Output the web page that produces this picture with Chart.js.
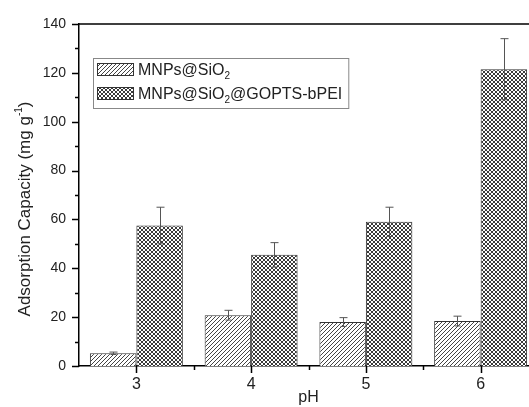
<!DOCTYPE html>
<html>
<head>
<meta charset="utf-8">
<script src="https://cdn.jsdelivr.net/npm/chart.js@4/dist/chart.umd.min.js"></script>
<style>
  html, body { margin: 0; padding: 0; background: #fff; overflow: hidden; }
  #wrap { width: 529px; height: 407px; overflow: hidden; }
</style>
</head>
<body>
<div id="wrap"><canvas id="chart" width="540" height="407"></canvas></div>
<script>
// data
const phLabels = ["3", "4", "5", "6"];
const silicaVals = [5.2, 20.8, 18.0, 18.4];
const silicaErr = [0.5, 2.0, 1.8, 2.0];
const peiVals = [57.5, 45.5, 59.0, 121.5];
const peiErr = [7.5, 5.0, 6.0, 12.5];
const yTicks = [0, 20, 40, 60, 80, 100, 120, 140];

const FONT = "'Liberation Sans', Arial, sans-serif";
const TEXT = "#222";

// fill patterns
function hatchPattern() {
  const c = document.createElement("canvas");
  c.width = 4; c.height = 4;
  const g = c.getContext("2d");
  g.fillStyle = "#fff";
  g.fillRect(0, 0, 4, 4);
  g.strokeStyle = "#444";
  g.lineWidth = 1;
  g.beginPath();
  g.moveTo(-1, 5); g.lineTo(5, -1);
  g.moveTo(-1, 1); g.lineTo(1, -1);
  g.moveTo(3, 5); g.lineTo(5, 3);
  g.stroke();
  return g.createPattern(c, "repeat");
}
function crossPattern() {
  const c = document.createElement("canvas");
  c.width = 4; c.height = 4;
  const g = c.getContext("2d");
  g.fillStyle = "#fff";
  g.fillRect(0, 0, 4, 4);
  g.fillStyle = "#3a3a3a";
  [[0,0],[1,1],[2,2],[3,3],[3,0],[2,1],[1,2],[0,3]].forEach(p => g.fillRect(p[0], p[1], 1, 1));
  return g.createPattern(c, "repeat");
}
const hatch = hatchPattern();
const cross = crossPattern();

// error bars, axis frame and ticks
const extras = {
  id: "extras",
  afterDatasetsDraw(chart) {
    const ctx = chart.ctx;
    const y = chart.scales.y;
    const errs = [silicaErr, peiErr];
    ctx.save();
    ctx.strokeStyle = "#555";
    ctx.lineWidth = 1;
    chart.data.datasets.forEach((ds, i) => {
      chart.getDatasetMeta(i).data.forEach((bar, j) => {
        const v = ds.data[j], e = errs[i][j];
        const x = Math.round(bar.x) + 0.5;
        const top = y.getPixelForValue(v + e);
        const bot = y.getPixelForValue(v - e);
        ctx.beginPath();
        ctx.moveTo(x, bot); ctx.lineTo(x, top);
        ctx.moveTo(x - 4, top); ctx.lineTo(x + 4, top);
        ctx.moveTo(x - 3, bot); ctx.lineTo(x + 3, bot);
        ctx.stroke();
      });
    });
    ctx.restore();
  },
  afterDraw(chart) {
    const ctx = chart.ctx;
    const a = chart.chartArea;
    const x = chart.scales.x, y = chart.scales.y;
    ctx.save();
    ctx.strokeStyle = "#000";
    ctx.lineWidth = 1.5;
    ctx.beginPath();
    ctx.moveTo(a.left, a.top); ctx.lineTo(a.right, a.top);
    // y ticks, major every 20, minor between
    for (let v = 0; v <= 140; v += 10) {
      const py = Math.round(y.getPixelForValue(v)) + 0.5;
      const len = v % 20 === 0 ? 7 : 4;
      ctx.moveTo(a.left - len, py); ctx.lineTo(a.left, py);
    }
    // x ticks at categories, minor between
    for (let i = 0; i < phLabels.length; i++) {
      const px = Math.round(x.getPixelForValue(i)) + 0.5;
      ctx.moveTo(px, a.bottom); ctx.lineTo(px, a.bottom + 7);
      if (i > 0) {
        const mx = Math.round(x.getPixelForValue(i - 0.5)) + 0.5;
        ctx.moveTo(mx, a.bottom); ctx.lineTo(mx, a.bottom + 4);
      }
    }
    ctx.stroke();

    // y axis title with superscript
    ctx.fillStyle = TEXT;
    ctx.translate(25, 209);
    ctx.rotate(-Math.PI / 2);
    ctx.textBaseline = "middle";
    ctx.textAlign = "left";
    const main = "Adsorption Capacity (mg g";
    const sup = "-1";
    ctx.font = "17px " + FONT;
    const w1 = ctx.measureText(main).width;
    const w3 = ctx.measureText(")").width;
    ctx.font = "10px " + FONT;
    const w2 = ctx.measureText(sup).width;
    let sx = -(w1 + w2 + w3) / 2;
    ctx.font = "17px " + FONT;
    ctx.fillText(main, sx, 0);
    ctx.font = "10px " + FONT;
    ctx.fillText(sup, sx + w1, -6);
    ctx.font = "17px " + FONT;
    ctx.fillText(")", sx + w1 + w2, 0);
    ctx.restore();

    // legend box
    ctx.save();
    const lx = 93, ly = 58;
    const entries = [
      { fill: hatch, parts: ["MNPs@SiO", "2", ""] },
      { fill: cross, parts: ["MNPs@SiO", "2", "@GOPTS-bPEI"] }
    ];
    ctx.font = "16px " + FONT;
    let maxW = 0;
    entries.forEach(en => {
      ctx.font = "16px " + FONT;
      let w = ctx.measureText(en.parts[0]).width + ctx.measureText(en.parts[2]).width;
      ctx.font = "10px " + FONT;
      w += ctx.measureText(en.parts[1]).width;
      en.w = w;
      maxW = Math.max(maxW, w);
    });
    ctx.fillStyle = "#fff";
    ctx.fillRect(lx, ly, 45 + maxW + 6, 50);
    ctx.strokeStyle = "#888";
    ctx.lineWidth = 1;
    ctx.strokeRect(lx + 0.5, ly + 0.5, 45 + maxW + 6, 50);
    entries.forEach((en, k) => {
      const top = ly + 5 + k * 24;
      ctx.fillStyle = en.fill;
      ctx.fillRect(lx + 4, top, 36, 12);
      ctx.strokeStyle = "#333";
      ctx.strokeRect(lx + 4.5, top + 0.5, 36, 12);
      ctx.fillStyle = TEXT;
      ctx.textBaseline = "alphabetic";
      let tx = lx + 45;
      const base = top + 12;
      ctx.font = "16px " + FONT;
      ctx.fillText(en.parts[0], tx, base);
      tx += ctx.measureText(en.parts[0]).width;
      ctx.font = "10px " + FONT;
      ctx.fillText(en.parts[1], tx, base + 4);
      tx += ctx.measureText(en.parts[1]).width;
      ctx.font = "16px " + FONT;
      ctx.fillText(en.parts[2], tx, base);
    });
    ctx.restore();
  }
};

new Chart(document.getElementById("chart"), {
  type: "bar",
  data: {
    labels: phLabels,
    datasets: [
      {
        label: "MNPs@SiO2",
        data: silicaVals,
        backgroundColor: hatch,
        borderColor: "#333",
        borderWidth: 1,
        categoryPercentage: 0.81,
        barPercentage: 1
      },
      {
        label: "MNPs@SiO2@GOPTS-bPEI",
        data: peiVals,
        backgroundColor: cross,
        borderColor: "#333",
        borderWidth: 1,
        categoryPercentage: 0.81,
        barPercentage: 1
      }
    ]
  },
  options: {
    responsive: false,
    animation: false,
    layout: { padding: { top: 24, right: 2, left: 0, bottom: 0 } },
    plugins: { legend: { display: false }, tooltip: { enabled: false } },
    scales: {
      x: {
        afterFit: s => { s.height = 41; },
        grid: { display: false, drawTicks: false },
        border: { display: true, color: "#000", width: 1.5 },
        ticks: { color: TEXT, font: { family: FONT, size: 16 }, padding: 9 },
        title: { display: true, text: "pH", color: TEXT, font: { family: FONT, size: 16 }, padding: { top: 0, bottom: 0 } }
      },
      y: {
        min: 0,
        max: 140,
        afterFit: s => { s.width = 79; },
        afterBuildTicks: s => { s.ticks = yTicks.map(v => ({ value: v })); },
        grid: { display: false, drawTicks: false },
        border: { display: true, color: "#000", width: 1.5 },
        ticks: { color: TEXT, font: { family: FONT, size: 14 }, padding: 13 }
      }
    }
  },
  plugins: [extras]
});
</script>
</body>
</html>
